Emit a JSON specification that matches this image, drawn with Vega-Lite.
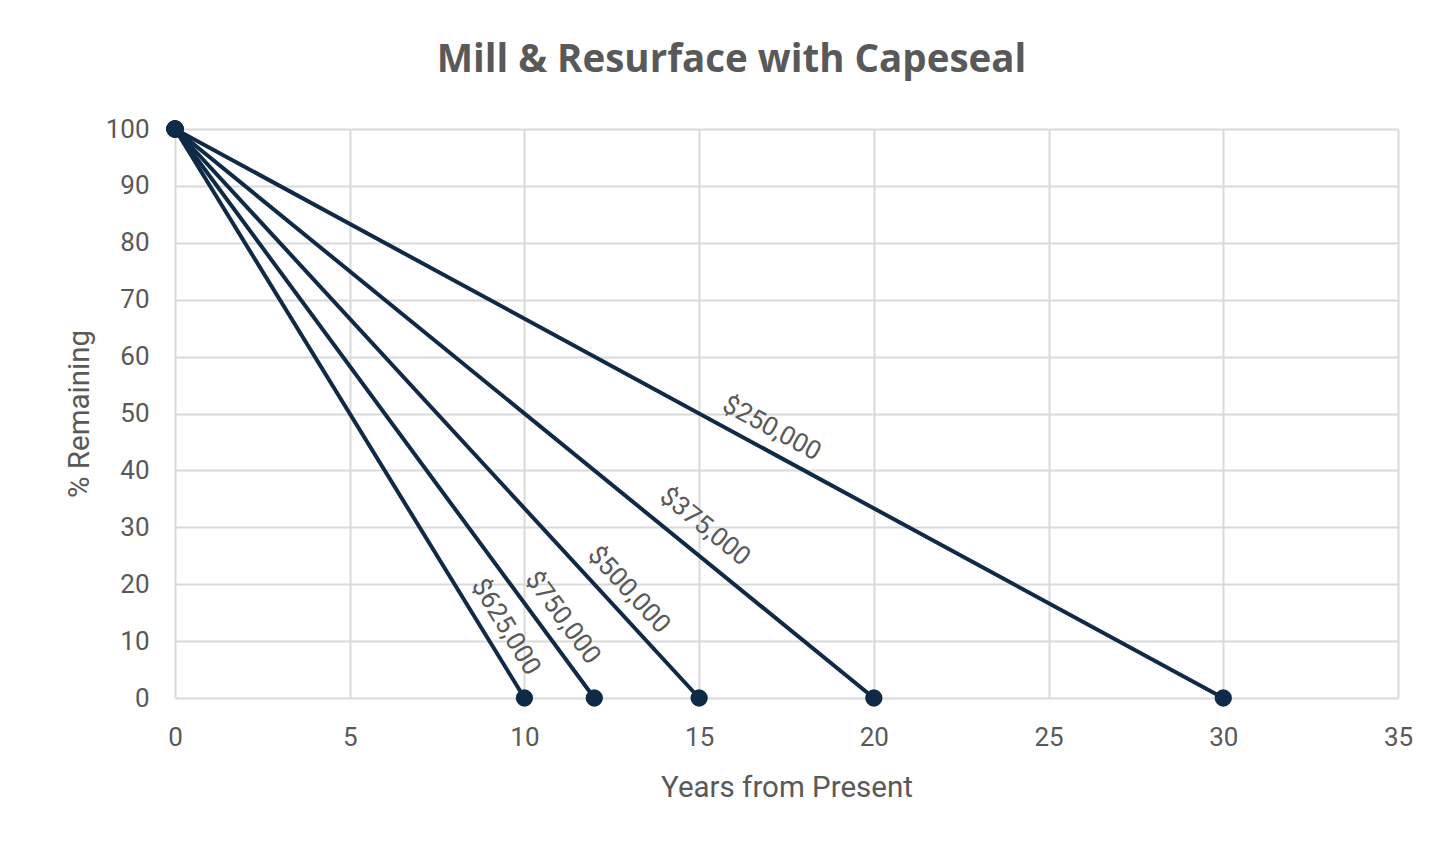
{
  "$schema": "https://vega.github.io/schema/vega-lite/v6.json",
  "width": 1223,
  "height": 569,
  "autosize": {"type": "none"},
  "padding": {"left": 175, "top": 129, "right": 34, "bottom": 144},
  "background": "white",
  "title": {
    "text": "Mill & Resurface with Capeseal",
    "font": "Open Sans",
    "fontSize": 38.5,
    "fontWeight": "bold",
    "color": "#595959",
    "anchor": "middle",
    "dx": -55,
    "offset": 36
  },
  "config": {
    "view": {"stroke": null},
    "font": "Roboto",
    "axis": {
      "labelFont": "Roboto",
      "titleFont": "Roboto",
      "labelColor": "#595959",
      "titleColor": "#595959",
      "labelFontSize": 26,
      "titleFontSize": 29.5,
      "titleFontWeight": "normal",
      "gridColor": "#d9d9d9",
      "gridWidth": 2,
      "ticks": false,
      "domain": false,
      "labelFlush": false
    }
  },
  "datasets": {
    "lines": [
      {"series": "$250,000", "years": 0, "pct": 100},
      {"series": "$250,000", "years": 30, "pct": 0},
      {"series": "$375,000", "years": 0, "pct": 100},
      {"series": "$375,000", "years": 20, "pct": 0},
      {"series": "$500,000", "years": 0, "pct": 100},
      {"series": "$500,000", "years": 15, "pct": 0},
      {"series": "$750,000", "years": 0, "pct": 100},
      {"series": "$750,000", "years": 12, "pct": 0},
      {"series": "$625,000", "years": 0, "pct": 100},
      {"series": "$625,000", "years": 10, "pct": 0}
    ],
    "labels": [
      {"series": "$250,000", "lx": 17.08, "ly": 47.4},
      {"series": "$375,000", "lx": 15.17, "ly": 30.1},
      {"series": "$500,000", "lx": 12.99, "ly": 19.0},
      {"series": "$750,000", "lx": 11.1, "ly": 14.1},
      {"series": "$625,000", "lx": 9.47, "ly": 12.5}
    ]
  },
  "layer": [
    {
      "data": {"name": "lines"},
      "mark": {"type": "line", "color": "#0f2a47", "strokeWidth": 4},
      "encoding": {
        "x": {
          "field": "years", "type": "quantitative",
          "scale": {"domain": [0, 35], "nice": false},
          "axis": {"values": [0, 5, 10, 15, 20, 25, 30, 35], "title": "Years from Present", "labelPadding": 26, "titlePadding": 23, "grid": true}
        },
        "y": {
          "field": "pct", "type": "quantitative",
          "scale": {"domain": [0, 100], "nice": false},
          "axis": {"values": [0, 10, 20, 30, 40, 50, 60, 70, 80, 90, 100], "title": "% Remaining", "labelPadding": 26, "titlePadding": 11, "grid": true}
        },
        "detail": {"field": "series"}
      }
    },
    {
      "data": {"name": "lines"},
      "mark": {"type": "point", "filled": true, "color": "#0f2a47", "size": 300, "opacity": 1},
      "encoding": {
        "x": {"field": "years", "type": "quantitative"},
        "y": {"field": "pct", "type": "quantitative"}
      }
    },
    {
      "data": {"name": "labels"},
      "transform": [{"filter": "datum.series === '$250,000'"}],
      "mark": {"type": "text", "angle": 28.5, "fontSize": 26, "color": "#595959", "font": "Roboto"},
      "encoding": {"x": {"field": "lx", "type": "quantitative"}, "y": {"field": "ly", "type": "quantitative"}, "text": {"field": "series"}}
    },
    {
      "data": {"name": "labels"},
      "transform": [{"filter": "datum.series === '$375,000'"}],
      "mark": {"type": "text", "angle": 39.1, "fontSize": 26, "color": "#595959", "font": "Roboto"},
      "encoding": {"x": {"field": "lx", "type": "quantitative"}, "y": {"field": "ly", "type": "quantitative"}, "text": {"field": "series"}}
    },
    {
      "data": {"name": "labels"},
      "transform": [{"filter": "datum.series === '$500,000'"}],
      "mark": {"type": "text", "angle": 47.4, "fontSize": 26, "color": "#595959", "font": "Roboto"},
      "encoding": {"x": {"field": "lx", "type": "quantitative"}, "y": {"field": "ly", "type": "quantitative"}, "text": {"field": "series"}}
    },
    {
      "data": {"name": "labels"},
      "transform": [{"filter": "datum.series === '$750,000'"}],
      "mark": {"type": "text", "angle": 53.6, "fontSize": 26, "color": "#595959", "font": "Roboto"},
      "encoding": {"x": {"field": "lx", "type": "quantitative"}, "y": {"field": "ly", "type": "quantitative"}, "text": {"field": "series"}}
    },
    {
      "data": {"name": "labels"},
      "transform": [{"filter": "datum.series === '$625,000'"}],
      "mark": {"type": "text", "angle": 58.5, "fontSize": 26, "color": "#595959", "font": "Roboto"},
      "encoding": {"x": {"field": "lx", "type": "quantitative"}, "y": {"field": "ly", "type": "quantitative"}, "text": {"field": "series"}}
    }
  ]
}
